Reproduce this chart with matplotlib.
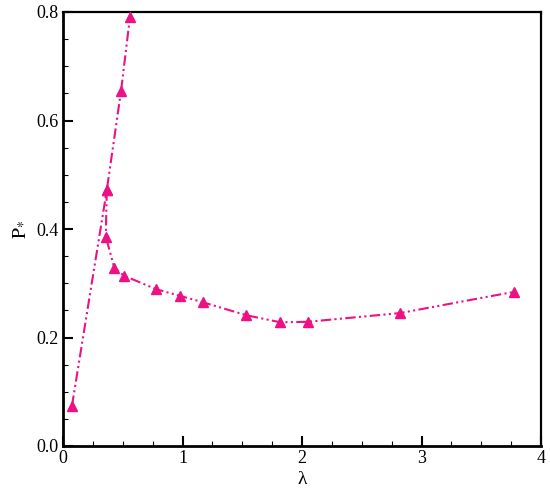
import matplotlib
matplotlib.use("Agg")
import matplotlib.pyplot as plt
from matplotlib.ticker import MultipleLocator, FormatStrFormatter

# Data
lam_upper = [0.075, 0.366, 0.486, 0.56]
p_upper = [0.074, 0.471, 0.655, 0.79]

lam_lower = [0.366, 0.358, 0.43, 0.51, 0.78, 0.975, 1.17, 1.535, 1.82, 2.05, 2.82, 3.77]
p_lower = [0.471, 0.386, 0.328, 0.314, 0.289, 0.277, 0.265, 0.241, 0.228, 0.229, 0.245, 0.284]

x_ticks = [0, 1, 2, 3, 4]
y_ticks = [0.0, 0.2, 0.4, 0.6, 0.8]

plt.rcParams['font.family'] = ['Liberation Serif', 'DejaVu Serif']
plt.rcParams['mathtext.fontset'] = 'stix'

color = '#EE1183'
ls = (0, (5, 1.6, 1, 1.6, 1, 1.6))

fig = plt.figure(figsize=(5.5, 4.95), dpi=100)
ax = fig.add_axes([63/550, 1-446/495, (541-63)/550, (446-12)/495])

for xs, ys in [(lam_upper, p_upper), (lam_lower, p_lower)]:
    ax.plot(xs, ys, color=color, linestyle=ls, linewidth=1.5,
            marker='^', markersize=7, markerfacecolor=color,
            markeredgecolor=color, clip_on=False, zorder=3)

ax.set_xlim(0, 4)
ax.set_ylim(0, 0.8)
ax.set_xticks(x_ticks)
ax.set_yticks(y_ticks)
ax.xaxis.set_minor_locator(MultipleLocator(0.25))
ax.yaxis.set_minor_locator(MultipleLocator(0.05))
ax.yaxis.set_major_formatter(FormatStrFormatter('%.1f'))
ax.xaxis.set_major_formatter(FormatStrFormatter('%d'))

ax.tick_params(which='major', direction='in', length=7, width=1.5,
               labelsize=13, pad=3, top=False, right=False)
ax.tick_params(which='minor', direction='in', length=3.5, width=0.8,
               top=False, right=False)

for side in ['left', 'bottom']:
    ax.spines[side].set_linewidth(2.0)
for side in ['top', 'right']:
    ax.spines[side].set_linewidth(1.6)

ax.set_xlabel('λ', fontsize=14, labelpad=3)
ax.set_ylabel(r'$\mathrm{P}_{*}$', fontsize=14, labelpad=6)

fig.savefig('out.png', dpi=100)
